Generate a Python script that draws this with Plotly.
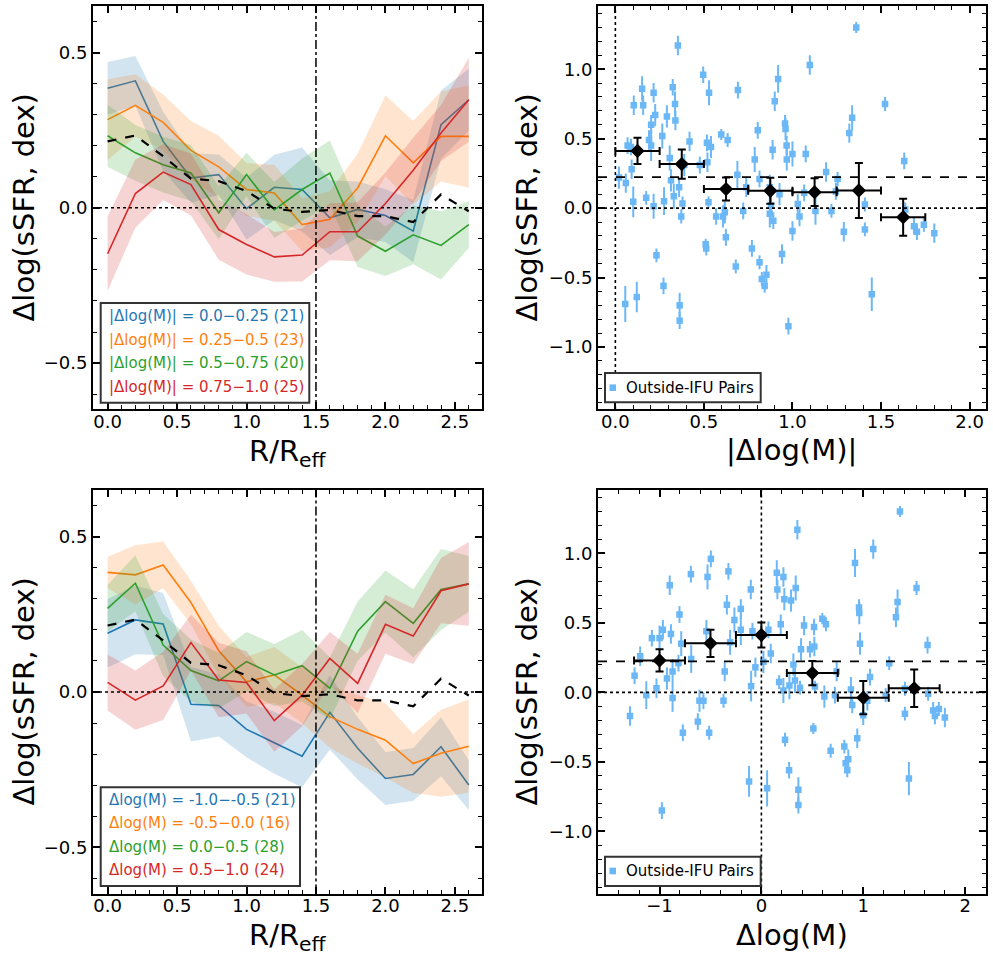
import plotly.graph_objects as go

# ---------------- data ----------------
R = [0.0, 0.2, 0.4, 0.6, 0.8, 1.0, 1.2, 1.4, 1.6, 1.8, 2.0, 2.2, 2.4, 2.6]

all_pairs = [0.214, 0.233, 0.166, 0.094, 0.086, 0.054, -0.003, -0.013, -0.007, -0.027, -0.027, -0.046, 0.043, -0.011]

# top-left: |dlog M| bins
abs_labels = ["|Δlog(M)| = 0.0−0.25 (21)", "|Δlog(M)| = 0.25−0.5 (23)",
              "|Δlog(M)| = 0.5−0.75 (20)", "|Δlog(M)| = 0.75−1.0 (25)"]
abs_vals = [
    [0.385, 0.409, 0.214, 0.096, 0.107, -0.003, 0.066, 0.059, -0.032, -0.005, -0.025, -0.075, 0.268, 0.348],
    [0.284, 0.330, 0.275, 0.185, 0.132, 0.059, 0.048, -0.054, -0.037, 0.064, 0.232, 0.145, 0.230, 0.230],
    [0.232, 0.177, 0.139, 0.112, -0.016, 0.107, -0.007, 0.059, 0.112, -0.091, -0.140, -0.087, -0.121, -0.054],
    [-0.148, 0.046, 0.115, 0.075, -0.070, -0.118, -0.158, -0.152, -0.077, -0.077, 0.014, 0.121, 0.241, 0.348],
]
abs_errs = [
    [0.085, 0.08, 0.095, 0.08, 0.065, 0.1, 0.105, 0.135, 0.12, 0.09, 0.085, 0.1, 0.11, 0.1],
    [0.13, 0.1, 0.09, 0.095, 0.1, 0.085, 0.09, 0.085, 0.09, 0.11, 0.13, 0.135, 0.145, 0.165],
    [0.1, 0.09, 0.09, 0.09, 0.085, 0.07, 0.09, 0.1, 0.105, 0.1, 0.08, 0.095, 0.11, 0.075],
    [0.12, 0.11, 0.09, 0.1, 0.097, 0.097, 0.08, 0.085, 0.092, 0.095, 0.1, 0.105, 0.09, 0.135],
]

# bottom-left: signed dlog M bins
sgn_labels = ["Δlog(M) = -1.0−-0.5 (21)", "Δlog(M) = -0.5−0.0 (16)",
              "Δlog(M) = 0.0−0.5 (28)", "Δlog(M) = 0.5−1.0 (24)"]
sgn_vals = [
    [0.189, 0.232, 0.219, -0.039, -0.043, -0.120, -0.163, -0.206, -0.065, -0.181, -0.278, -0.265, -0.176, -0.299],
    [0.385, 0.377, 0.409, 0.288, 0.133, 0.033, 0.055, -0.010, -0.079, -0.120, -0.155, -0.230, -0.197, -0.174],
    [0.269, 0.350, 0.151, 0.069, 0.036, 0.098, 0.055, 0.085, 0.012, 0.196, 0.291, 0.221, 0.330, 0.348],
    [0.031, -0.026, 0.020, 0.159, 0.039, 0.031, -0.092, -0.010, 0.108, 0.028, 0.218, 0.180, 0.326, 0.348],
]
sgn_errs = [
    [0.11, 0.11, 0.1, 0.12, 0.1, 0.09, 0.1, 0.1, 0.12, 0.1, 0.085, 0.085, 0.095, 0.08],
    [0.05, 0.095, 0.075, 0.07, 0.08, 0.08, 0.09, 0.09, 0.1, 0.11, 0.12, 0.095, 0.14, 0.15],
    [0.075, 0.09, 0.1, 0.1, 0.09, 0.095, 0.1, 0.115, 0.1, 0.095, 0.1, 0.11, 0.13, 0.09],
    [0.09, 0.095, 0.11, 0.09, 0.12, 0.1, 0.1, 0.1, 0.085, 0.095, 0.095, 0.09, 0.105, 0.135],
]

# outside-IFU pairs (signed delta log M, delta log sSFR, error)
pair_dm = [-1.29, -1.245, -1.19, -1.13, -1.075, -1.03, -1.00, -0.967, -0.977, -0.927,
           -0.90, -0.888, -0.872, -0.872, -0.814, -0.804, -0.787, -0.771, -0.692, -0.689,
           -0.624, -0.608, -0.569, -0.54, -0.529, -0.513, -0.496, -0.372, -0.36, -0.324,
           -0.339, -0.307, -0.265, -0.202, -0.202, -0.121, -0.104, -0.101, -0.088, -0.059,
           0.02, 0.056, 0.069, 0.092, 0.151, 0.157, 0.174, 0.19, 0.216, 0.216,
           0.225, 0.232, 0.272, 0.275, 0.291, 0.314, 0.330, 0.337, 0.353, 0.363,
           0.363, 0.379, 0.389, 0.419, 0.477, 0.510, 0.517, 0.520, 0.526, 0.598,
           0.618, 0.634, 0.680, 0.722, 0.739, 0.814, 0.827, 0.843, 0.853, 0.879,
           0.892, 0.919, 0.941, 0.958, 0.961, 0.968, 1.0, 1.04, 1.066, 1.098,
           1.22, 1.255, 1.321, 1.337, 1.360, 1.409, 1.409, 1.448, 1.523, 1.631,
           1.637, 1.686, 1.703, 1.742, 1.801]
pair_ds = [-0.17, 0.12, 0.26, -0.02, 0.39, 0.03, 0.39, 0.45, -0.85, 0.10,
           0.77, 0.42, 0.15, -0.04, 0.21, 0.56, 0.35, -0.29, 0.85, 0.24,
           -0.21, -0.06, -0.06, 0.44, 0.83, -0.29, 0.96, -0.06, 0.15, 0.87,
           0.63, 0.36, 0.52, 0.60, 0.45, -0.64, 0.74, 0.045, 0.44, 0.18,
           0.22, -0.69, 0.45, 0.28, 0.86, 0.74, 0.074, 0.49, 0.83, 0.014,
           0.67, -0.34, -0.56, 0.05, 0.66, 0.20, 0.086, 0.75, 1.17, -0.70,
           -0.81, 0.034, 0.31, 0.48, 0.31, -0.26, 0.47, 0.33, 0.043, 0.53,
           -0.03, 0.49, -0.42, -0.02, 0.15, -0.39, -0.51, -0.56, -0.48, 0.02,
           -0.09, 0.93, -0.33, 0.61, 0.57, 0.35, -0.165, -0.06, 0.11, 1.03,
           -0.02, 0.21, 0.54, 0.65, 1.30, 0.026, -0.153, -0.62, 0.75, 0.34,
           -0.01, -0.13, -0.17, -0.12, -0.18]
pair_err = [0.07, 0.06, 0.07, 0.10, 0.06, 0.07, 0.09, 0.07, 0.06, 0.08,
            0.07, 0.07, 0.09, 0.10, 0.06, 0.06, 0.09, 0.06, 0.06, 0.10,
            0.06, 0.08, 0.06, 0.08, 0.09, 0.05, 0.06, 0.05, 0.07, 0.06,
            0.07, 0.09, 0.09, 0.07, 0.11, 0.11, 0.07, 0.11, 0.06, 0.07,
            0.08, 0.13, 0.06, 0.07, 0.09, 0.07, 0.05, 0.07, 0.07, 0.09,
            0.08, 0.05, 0.06, 0.10, 0.08, 0.08, 0.09, 0.09, 0.07, 0.09,
            0.06, 0.05, 0.08, 0.07, 0.06, 0.04, 0.06, 0.07, 0.04, 0.04,
            0.08, 0.05, 0.05, 0.06, 0.07, 0.05, 0.05, 0.05, 0.07, 0.09,
            0.06, 0.10, 0.07, 0.06, 0.08, 0.08, 0.07, 0.07, 0.06, 0.07,
            0.05, 0.05, 0.07, 0.09, 0.04, 0.05, 0.05, 0.12, 0.05, 0.06,
            0.05, 0.06, 0.06, 0.05, 0.07]
pair_abs = [abs(v) for v in pair_dm]

# binned means
abs_bin_x = [0.125, 0.375, 0.625, 0.875, 1.125, 1.375, 1.625]
abs_bin_xerr = [0.125] * 7
abs_bin_y = [0.412, 0.317, 0.137, 0.125, 0.115, 0.127, -0.065]
abs_bin_yerr = [0.095, 0.105, 0.083, 0.093, 0.100, 0.198, 0.133]

sgn_bin_x = [-1.0, -0.5, 0.0, 0.5, 1.0, 1.5]
sgn_bin_xerr = [0.25] * 6
sgn_bin_y = [0.230, 0.353, 0.412, 0.139, -0.038, 0.029]
sgn_bin_yerr = [0.080, 0.098, 0.090, 0.087, 0.120, 0.135]

mean_all = 0.223

# ---------------- figure ----------------
W, H = 993, 958
FONT = "DejaVu Sans"
cols_rgb = [(31, 119, 180), (255, 127, 14), (44, 160, 44), (214, 39, 40)]
line_cols = ["rgb(%d,%d,%d)" % c for c in cols_rgb]
fill_cols = ["rgba(%d,%d,%d,0.2)" % c for c in cols_rgb]
PT_COL = "#6cb8f6"

def fx(p):
    return p / W

def fy(p):
    return 1 - p / H

COL1 = [fx(93), fx(482)]
COL2 = [fx(598), fx(985.5)]
ROW1 = [fy(409), fy(6)]
ROW2 = [fy(893.5), fy(490)]

fig = go.Figure()

def add_profiles(vals, errs, xa, ya):
    for v, e, lc, fc in zip(vals, errs, line_cols, fill_cols):
        up = [a + b for a, b in zip(v, e)]
        lo = [a - b for a, b in zip(v, e)]
        fig.add_trace(go.Scatter(x=R + R[::-1], y=up + lo[::-1], fill="toself",
                                 fillcolor=fc, line=dict(width=0), mode="lines",
                                 xaxis=xa, yaxis=ya, showlegend=False, hoverinfo="skip"))
        fig.add_trace(go.Scatter(x=R, y=v, mode="lines", line=dict(color=lc, width=1.6),
                                 xaxis=xa, yaxis=ya, showlegend=False))
    fig.add_trace(go.Scatter(x=R, y=all_pairs, mode="lines",
                             line=dict(color="black", width=2.2, dash="dash"),
                             xaxis=xa, yaxis=ya, showlegend=False))

add_profiles(abs_vals, abs_errs, "x", "y")
add_profiles(sgn_vals, sgn_errs, "x3", "y3")

def add_scatter(xv, xa, ya, bx, bxe, by, bye):
    fig.add_trace(go.Scatter(x=xv, y=pair_ds, mode="markers",
                             marker=dict(symbol="square", size=6.5, color=PT_COL),
                             error_y=dict(type="data", array=pair_err, color=PT_COL,
                                          thickness=2, width=0),
                             xaxis=xa, yaxis=ya, showlegend=False))
    fig.add_trace(go.Scatter(x=bx, y=by, mode="markers",
                             marker=dict(symbol="diamond", size=11, color="black"),
                             error_x=dict(type="data", array=bxe, color="black", thickness=2, width=4),
                             error_y=dict(type="data", array=bye, color="black", thickness=2, width=4),
                             xaxis=xa, yaxis=ya, showlegend=False))

add_scatter(pair_abs, "x2", "y2", abs_bin_x, abs_bin_xerr, abs_bin_y, abs_bin_yerr)
add_scatter(pair_dm, "x4", "y4", sgn_bin_x, sgn_bin_xerr, sgn_bin_y, sgn_bin_yerr)

def axis(domain, anchor, rng, tv, tt, minor_dtick, standoff=0):
    return dict(domain=domain, anchor=anchor, range=rng, tickvals=tv, ticktext=tt,
                showgrid=False, zeroline=False, showline=True, linewidth=2, linecolor="black",
                mirror="allticks", ticks="inside", ticklen=7, tickwidth=1.6, tickcolor="black",
                ticklabelstandoff=standoff,
                tickfont=dict(family=FONT, size=18, color="black"),
                minor=dict(ticks="inside", ticklen=4, tickwidth=1.2, tickcolor="black",
                           dtick=minor_dtick, tick0=0, showgrid=False))

rx_tv = [0, 0.5, 1.0, 1.5, 2.0, 2.5]
rx_tt = ["0.0", "0.5", "1.0", "1.5", "2.0", "2.5"]
ly_tv = [-0.5, 0.0, 0.5]
ly_tt = ["−0.5", "0.0", "0.5"]
ry_tv = [-1.0, -0.5, 0.0, 0.5, 1.0]
ry_tt = ["−1.0", "−0.5", "0.0", "0.5", "1.0"]
XS = -5

fig.update_layout(
    xaxis=axis(COL1, "y", [-0.105, 2.695], rx_tv, rx_tt, 0.1, XS),
    yaxis=axis(ROW1, "x", [-0.648, 0.65], ly_tv, ly_tt, 0.1),
    xaxis2=axis(COL2, "y2", [-0.098, 2.09], [0, 0.5, 1.0, 1.5, 2.0], ["0.0", "0.5", "1.0", "1.5", "2.0"], 0.1, XS),
    yaxis2=axis(ROW1, "x2", [-1.446, 1.455], ry_tv, ry_tt, 0.1),
    xaxis3=axis(COL1, "y3", [-0.105, 2.695], rx_tv, rx_tt, 0.1, XS),
    yaxis3=axis(ROW2, "x3", [-0.648, 0.65], ly_tv, ly_tt, 0.1),
    xaxis4=axis(COL2, "y4", [-1.604, 2.2], [-1, 0, 1, 2], ["−1", "0", "1", "2"], 0.2, XS),
    yaxis4=axis(ROW2, "x4", [-1.446, 1.455], ry_tv, ry_tt, 0.1),
)

shapes = []
# reference lines
for xa, ya in [("x", "y"), ("x3", "y3")]:
    shapes.append(dict(type="line", xref=xa + " domain", yref=ya, x0=0, x1=1, y0=0, y1=0,
                       line=dict(color="black", width=1.4, dash="dot")))
    shapes.append(dict(type="line", xref=xa, yref=ya + " domain", x0=1.5, x1=1.5, y0=0, y1=1,
                       line=dict(color="black", width=1.5, dash="dashdot")))
for xa, ya in [("x2", "y2"), ("x4", "y4")]:
    shapes.append(dict(type="line", xref=xa + " domain", yref=ya, x0=0, x1=1, y0=0, y1=0,
                       line=dict(color="black", width=1.6, dash="dot")))
    shapes.append(dict(type="line", xref=xa + " domain", yref=ya, x0=0, x1=1, y0=mean_all, y1=mean_all,
                       line=dict(color="black", width=1.6, dash="dash")))
    shapes.append(dict(type="line", xref=xa, yref=ya + " domain", x0=0, x1=0, y0=0, y1=1,
                       line=dict(color="black", width=1.6, dash="dot")))

annotations = []

def legend_box(x0, x1, y0, y1):
    shapes.append(dict(type="rect", xref="paper", yref="paper", x0=fx(x0), x1=fx(x1),
                       y0=fy(y1), y1=fy(y0), line=dict(color="#333333", width=2),
                       fillcolor="white", layer="above"))

# left legends
legend_box(100.7, 309.3, 303, 402.7)
for i, (lab, c) in enumerate(zip(abs_labels, line_cols)):
    annotations.append(dict(x=fx(107), y=fy(316 + 23.5 * i), xref="paper", yref="paper",
                            text=lab, showarrow=False, xanchor="left", yanchor="middle",
                            font=dict(family=FONT, size=15, color=c)))
legend_box(100.7, 300, 787.3, 886)
for i, (lab, c) in enumerate(zip(sgn_labels, line_cols)):
    annotations.append(dict(x=fx(107), y=fy(800 + 23.4 * i), xref="paper", yref="paper",
                            text=lab, showarrow=False, xanchor="left", yanchor="middle",
                            font=dict(family=FONT, size=15, color=c)))

# scatter legends
for (y0, y1, yc) in [(373, 402.3, 387.7), (856.7, 886, 871)]:
    legend_box(605, 760.7, y0, y1)
    shapes.append(dict(type="rect", xref="paper", yref="paper", x0=fx(609.5), x1=fx(616),
                       y0=fy(yc + 3.3), y1=fy(yc - 3.3), line=dict(width=0),
                       fillcolor=PT_COL, layer="above"))
    annotations.append(dict(x=fx(624), y=fy(yc), xref="paper", yref="paper",
                            text="Outside-IFU Pairs", showarrow=False, xanchor="left",
                            yanchor="middle", font=dict(family=FONT, size=15, color="black")))

# axis titles
TF = dict(family=FONT, size=29, color="black")
ytitle = "Δlog(sSFR, dex)"
for (xc, yc) in [(23, 207.5), (526, 207.5), (23, 691.5), (526, 691.5)]:
    annotations.append(dict(x=fx(xc), y=fy(yc), xref="paper", yref="paper", text=ytitle,
                            textangle=-90, showarrow=False, xanchor="center", yanchor="middle",
                            font=TF))
for (xc, yc, t) in [(287.5, 453, "R/R<sub>eff</sub>"), (791.5, 450, "|Δlog(M)|"),
                    (287.5, 937, "R/R<sub>eff</sub>"), (791.5, 935, "Δlog(M)")]:
    annotations.append(dict(x=fx(xc), y=fy(yc), xref="paper", yref="paper", text=t,
                            showarrow=False, xanchor="center", yanchor="middle", font=TF))

fig.update_layout(shapes=shapes, annotations=annotations, width=W, height=H,
                  margin=dict(l=0, r=0, t=0, b=0), paper_bgcolor="white",
                  plot_bgcolor="white", showlegend=False,
                  font=dict(family=FONT, color="black"))

fig.write_html("out.html")
